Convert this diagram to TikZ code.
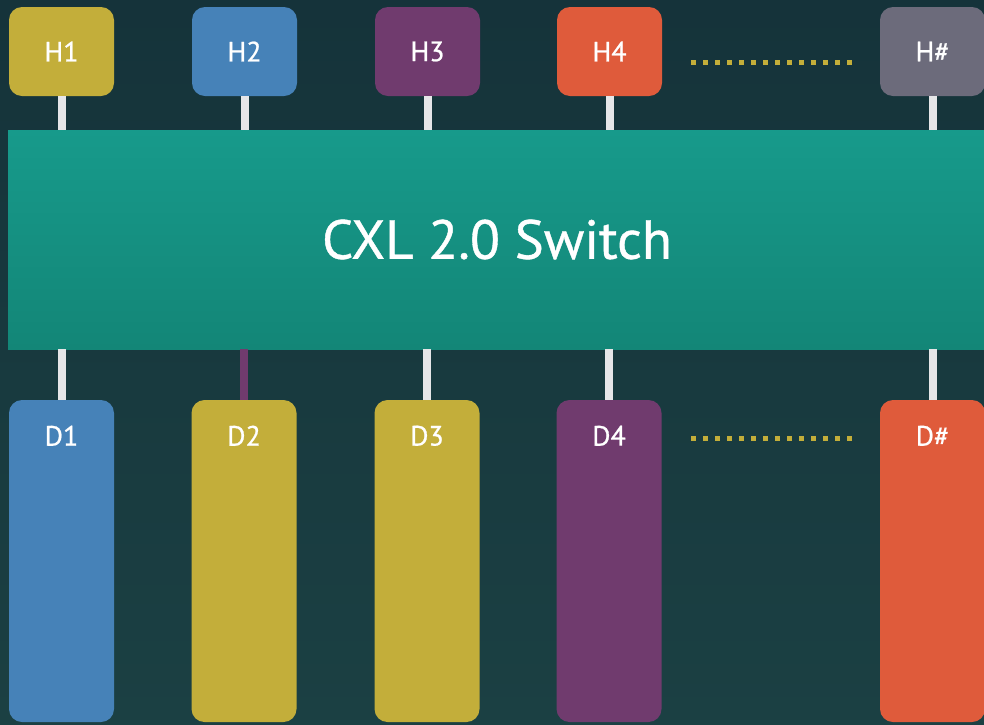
\documentclass[tikz,border=0pt]{standalone}
\usepackage{fontspec}
\setmainfont{PT Sans}[FakeBold=0.7]
\usetikzlibrary{positioning}

\definecolor{bgtop}{HTML}{15333A}
\definecolor{bgbot}{HTML}{1B4043}
\definecolor{swtop}{HTML}{179A8B}
\definecolor{swbot}{HTML}{138677}
\definecolor{cyellow}{HTML}{C3AE3A}
\definecolor{cblue}{HTML}{4682B8}
\definecolor{cpurple}{HTML}{703B6E}
\definecolor{corange}{HTML}{DF5B3B}
\definecolor{cgrey}{HTML}{6C6B7B}
\definecolor{cwire}{HTML}{E6E6E8}
\definecolor{cdots}{HTML}{C3AE3A}

\tikzset{
  HostStyle/.style   = {rounded corners=13pt, minimum width=105pt, minimum height=89pt,
                        inner sep=0pt, text=white, font=\fontsize{28}{28}\selectfont},
  DevStyle/.style    = {rounded corners=13pt, minimum width=105pt, minimum height=322pt,
                        inner sep=0pt},
  DevText/.style     = {text=white, inner sep=0pt, font=\fontsize{28}{28}\selectfont},
  SwitchStyle/.style = {top color=swtop, bottom color=swbot, minimum width=978pt,
                        minimum height=219pt, inner sep=0pt, text=white,
                        font=\fontsize{55}{55}\selectfont},
  WireStyle/.style   = {line width=8pt, cwire},
  DotStyle/.style    = {line width=5pt, cdots, dash pattern=on 5pt off 7pt}
}

\begin{document}
\begin{tikzpicture}[x=1pt,y=-1pt]

\shade[top color=bgtop, bottom color=bgbot] (0,0) rectangle (984,724);
\useasboundingbox (0,0) rectangle (984,724);

% hosts
\node[HostStyle, fill=cyellow] (h1) at (61.5,51.5) {H1};
\node[HostStyle, fill=cblue]   (h2) at (244.5,51.5) {H2};
\node[HostStyle, fill=cpurple] (h3) at (427.5,51.5) {H3};
\node[HostStyle, fill=corange] (h4) at (609.5,51.5) {H4};
\node[HostStyle, fill=cgrey]   (hn) at (932.5,51.5) {H\#};

% switch
\node[SwitchStyle] (sw) at (497,239.5) {CXL 2.0 Switch};

% devices
\node[DevStyle, fill=cblue]   (d1) at (61.5,561) {};
\node[DevStyle, fill=cyellow] (d2) at (244,561) {};
\node[DevStyle, fill=cyellow] (d3) at (427,561) {};
\node[DevStyle, fill=cpurple] (d4) at (609,561) {};
\node[DevStyle, fill=corange] (dn) at (932.5,561) {};

\node[DevText] (t1) at ([yshift=-36pt]d1.north) {D1};
\node[DevText] (t2) at ([yshift=-36pt]d2.north) {D2};
\node[DevText] (t3) at ([yshift=-36pt]d3.north) {D3};
\node[DevText] (t4) at ([yshift=-36pt]d4.north) {D4};
\node[DevText] (tn) at ([yshift=-36pt]dn.north) {D\#};

% wires
\draw[WireStyle] (h1.south) -- (h1.south |- sw.north);
\draw[WireStyle] (h2.south) -- (h2.south |- sw.north);
\draw[WireStyle] (h3.south) -- (h3.south |- sw.north);
\draw[WireStyle] (h4.south) -- (h4.south |- sw.north);
\draw[WireStyle] (hn.south) -- (hn.south |- sw.north);

\draw[WireStyle] (d1.north) -- (d1.north |- sw.south);
\draw[WireStyle, cpurple] (d2.north) -- (d2.north |- sw.south);
\draw[WireStyle] (d3.north) -- (d3.north |- sw.south);
\draw[WireStyle] (d4.north) -- (d4.north |- sw.south);
\draw[WireStyle] (dn.north) -- (dn.north |- sw.south);

% dots
\coordinate (hl) at (691,62.5);
\coordinate (hr) at (853,62.5);
\coordinate (dl) at (691,438);
\coordinate (dr) at (853,438);
\draw[DotStyle] (hl) -- (hr);
\draw[DotStyle] (dl) -- (dr);

\end{tikzpicture}
\end{document}
